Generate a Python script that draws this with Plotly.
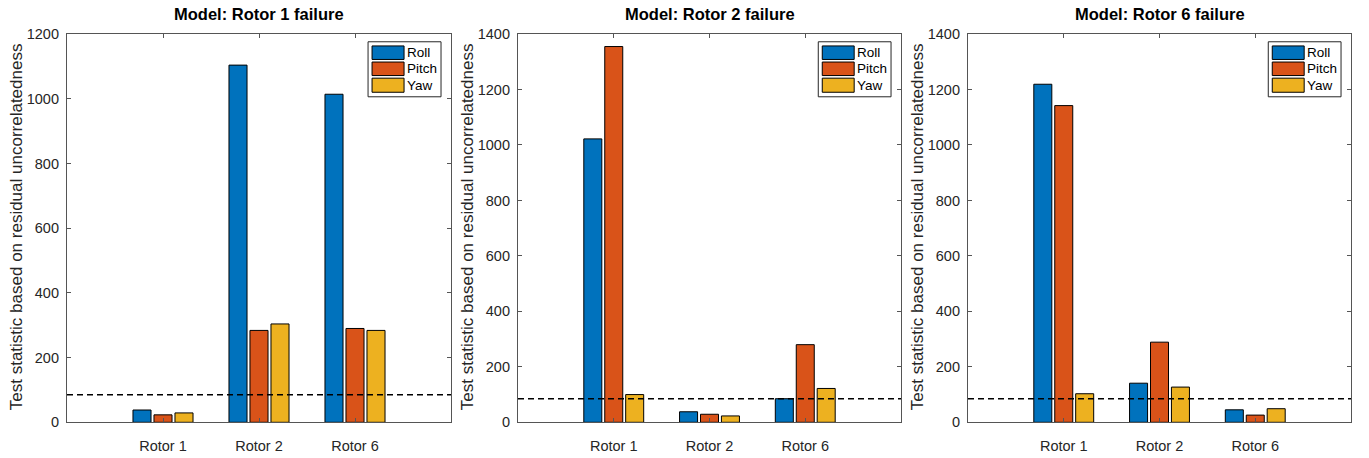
import plotly.graph_objects as go

# Residual uncorrelatedness test statistic for three fault models
rotors = ["Rotor 1", "Rotor 2", "Rotor 6"]
axes_names = ["Roll", "Pitch", "Yaw"]
colors = ["#0072BD", "#D95319", "#EDB120"]
threshold = 85

titles = ["Model: Rotor 1 failure", "Model: Rotor 2 failure", "Model: Rotor 6 failure"]

rotor1_model = {
    "Roll": [38, 1104, 1014],
    "Pitch": [23, 284, 290],
    "Yaw": [29, 304, 284],
}
rotor2_model = {
    "Roll": [1022, 38, 85],
    "Pitch": [1355, 29, 280],
    "Yaw": [100, 23, 122],
}
rotor6_model = {
    "Roll": [1219, 141, 45],
    "Pitch": [1142, 289, 26],
    "Yaw": [103, 127, 49],
}
models = [rotor1_model, rotor2_model, rotor6_model]
y_max = [1200, 1400, 1400]
y_dtick = [200, 200, 200]

W, H = 1369, 458
domains_px = [(67, 451), (518, 901), (968, 1351)]
top_px, bottom_px = 27, 429.3

FONT = "Liberation Sans, Arial, Helvetica, sans-serif"
AX = "#262626"
FRAME = "#555555"
ylabel = "Test statistic based on residual uncorrelatedness"

fig = go.Figure()
shapes, annotations = [], []

for i, (model, title) in enumerate(zip(models, titles)):
    n = "" if i == 0 else str(i + 1)
    xa, ya = "x" + n, "y" + n
    xs = [1, 2, 3]
    for name, col in zip(axes_names, colors):
        fig.add_trace(go.Bar(
            x=xs, y=model[name], name=name, xaxis=xa, yaxis=ya,
            marker=dict(color=col, line=dict(color="#000000", width=1)),
            showlegend=False,
        ))
    fig.add_trace(go.Scatter(
        x=[0, 4], y=[threshold, threshold], mode="lines", xaxis=xa, yaxis=ya,
        line=dict(color="#000000", width=1.5, dash="6px,4px"), showlegend=False,
        hoverinfo="skip",
    ))

    x0, x1 = domains_px[i]
    dom_x = [x0 / W, x1 / W]
    dom_y = [1 - bottom_px / H, 1 - top_px / H]
    fig.update_layout({
        "xaxis" + n: dict(
            domain=dom_x, range=[0, 4], tickvals=xs, ticktext=rotors,
            ticks="inside", ticklen=4, tickcolor=FRAME, showline=True, linecolor=FRAME,
            linewidth=1.2, mirror="ticks", showgrid=False, zeroline=False,
            tickfont=dict(family=FONT, size=14.5, color=AX), ticklabelstandoff=10,
            anchor=ya, fixedrange=True,
        ),
        "yaxis" + n: dict(
            domain=dom_y, range=[0, y_max[i]], dtick=y_dtick[i],
            ticks="inside", ticklen=4, tickcolor=FRAME, showline=True, linecolor=FRAME,
            linewidth=1.2, mirror="ticks", showgrid=False, zeroline=False,
            tickfont=dict(family=FONT, size=14.5, color=AX), ticklabelstandoff=4,
            anchor=xa, fixedrange=True,
        ),
    })

    # y-axis label
    annotations.append(dict(
        text=ylabel, xref="paper", yref="paper",
        x=(x0 - 51) / W, y=1 - ((top_px + bottom_px) / 2 - 1) / H,
        xanchor="center", yanchor="middle", textangle=-90, showarrow=False,
        font=dict(family=FONT, size=17, color=AX),
    ))

    # subplot title
    annotations.append(dict(
        text="<b>" + title + "</b>", xref="paper", yref="paper",
        x=(x0 + x1) / 2 / W, y=1 - 6 / H, xanchor="center", yanchor="middle",
        showarrow=False, font=dict(family=FONT, size=16.5, color="#000000"),
    ))

    # legend box
    xd, yd = xa + " domain", ya + " domain"
    ph = bottom_px - top_px
    lx0, lx1 = 0.784, 0.974
    def fy(px):
        return 1 - px / ph
    shapes.append(dict(type="rect", xref=xd, yref=yd, x0=lx0, x1=lx1,
                       y0=fy(65), y1=fy(8), line=dict(color=AX, width=1),
                       fillcolor="#ffffff", layer="above"))
    rows = [(12.3, 26.3), (29, 43), (45.7, 60.3)]
    for (r0, r1), name, col in zip(rows, axes_names, colors):
        sx0 = lx0 + 4 / 384
        sx1 = sx0 + 32 / 384
        shapes.append(dict(type="rect", xref=xd, yref=yd, x0=sx0, x1=sx1,
                           y0=fy(r1), y1=fy(r0), line=dict(color="#000000", width=1),
                           fillcolor=col, layer="above"))
        annotations.append(dict(
            text=name, xref=xd, yref=yd, x=sx1 + 1 / 384, y=fy((r0 + r1) / 2),
            xanchor="left", yanchor="middle", showarrow=False,
            font=dict(family=FONT, size=13.5, color="#000000"),
        ))

fig.update_layout(
    width=W, height=H, margin=dict(l=0, r=0, t=0, b=0),
    paper_bgcolor="#ffffff", plot_bgcolor="#ffffff",
    barmode="group", bargap=0.344, bargroupgap=0.14,
    shapes=shapes, annotations=annotations, showlegend=False,
)

fig.write_html("out.html")
